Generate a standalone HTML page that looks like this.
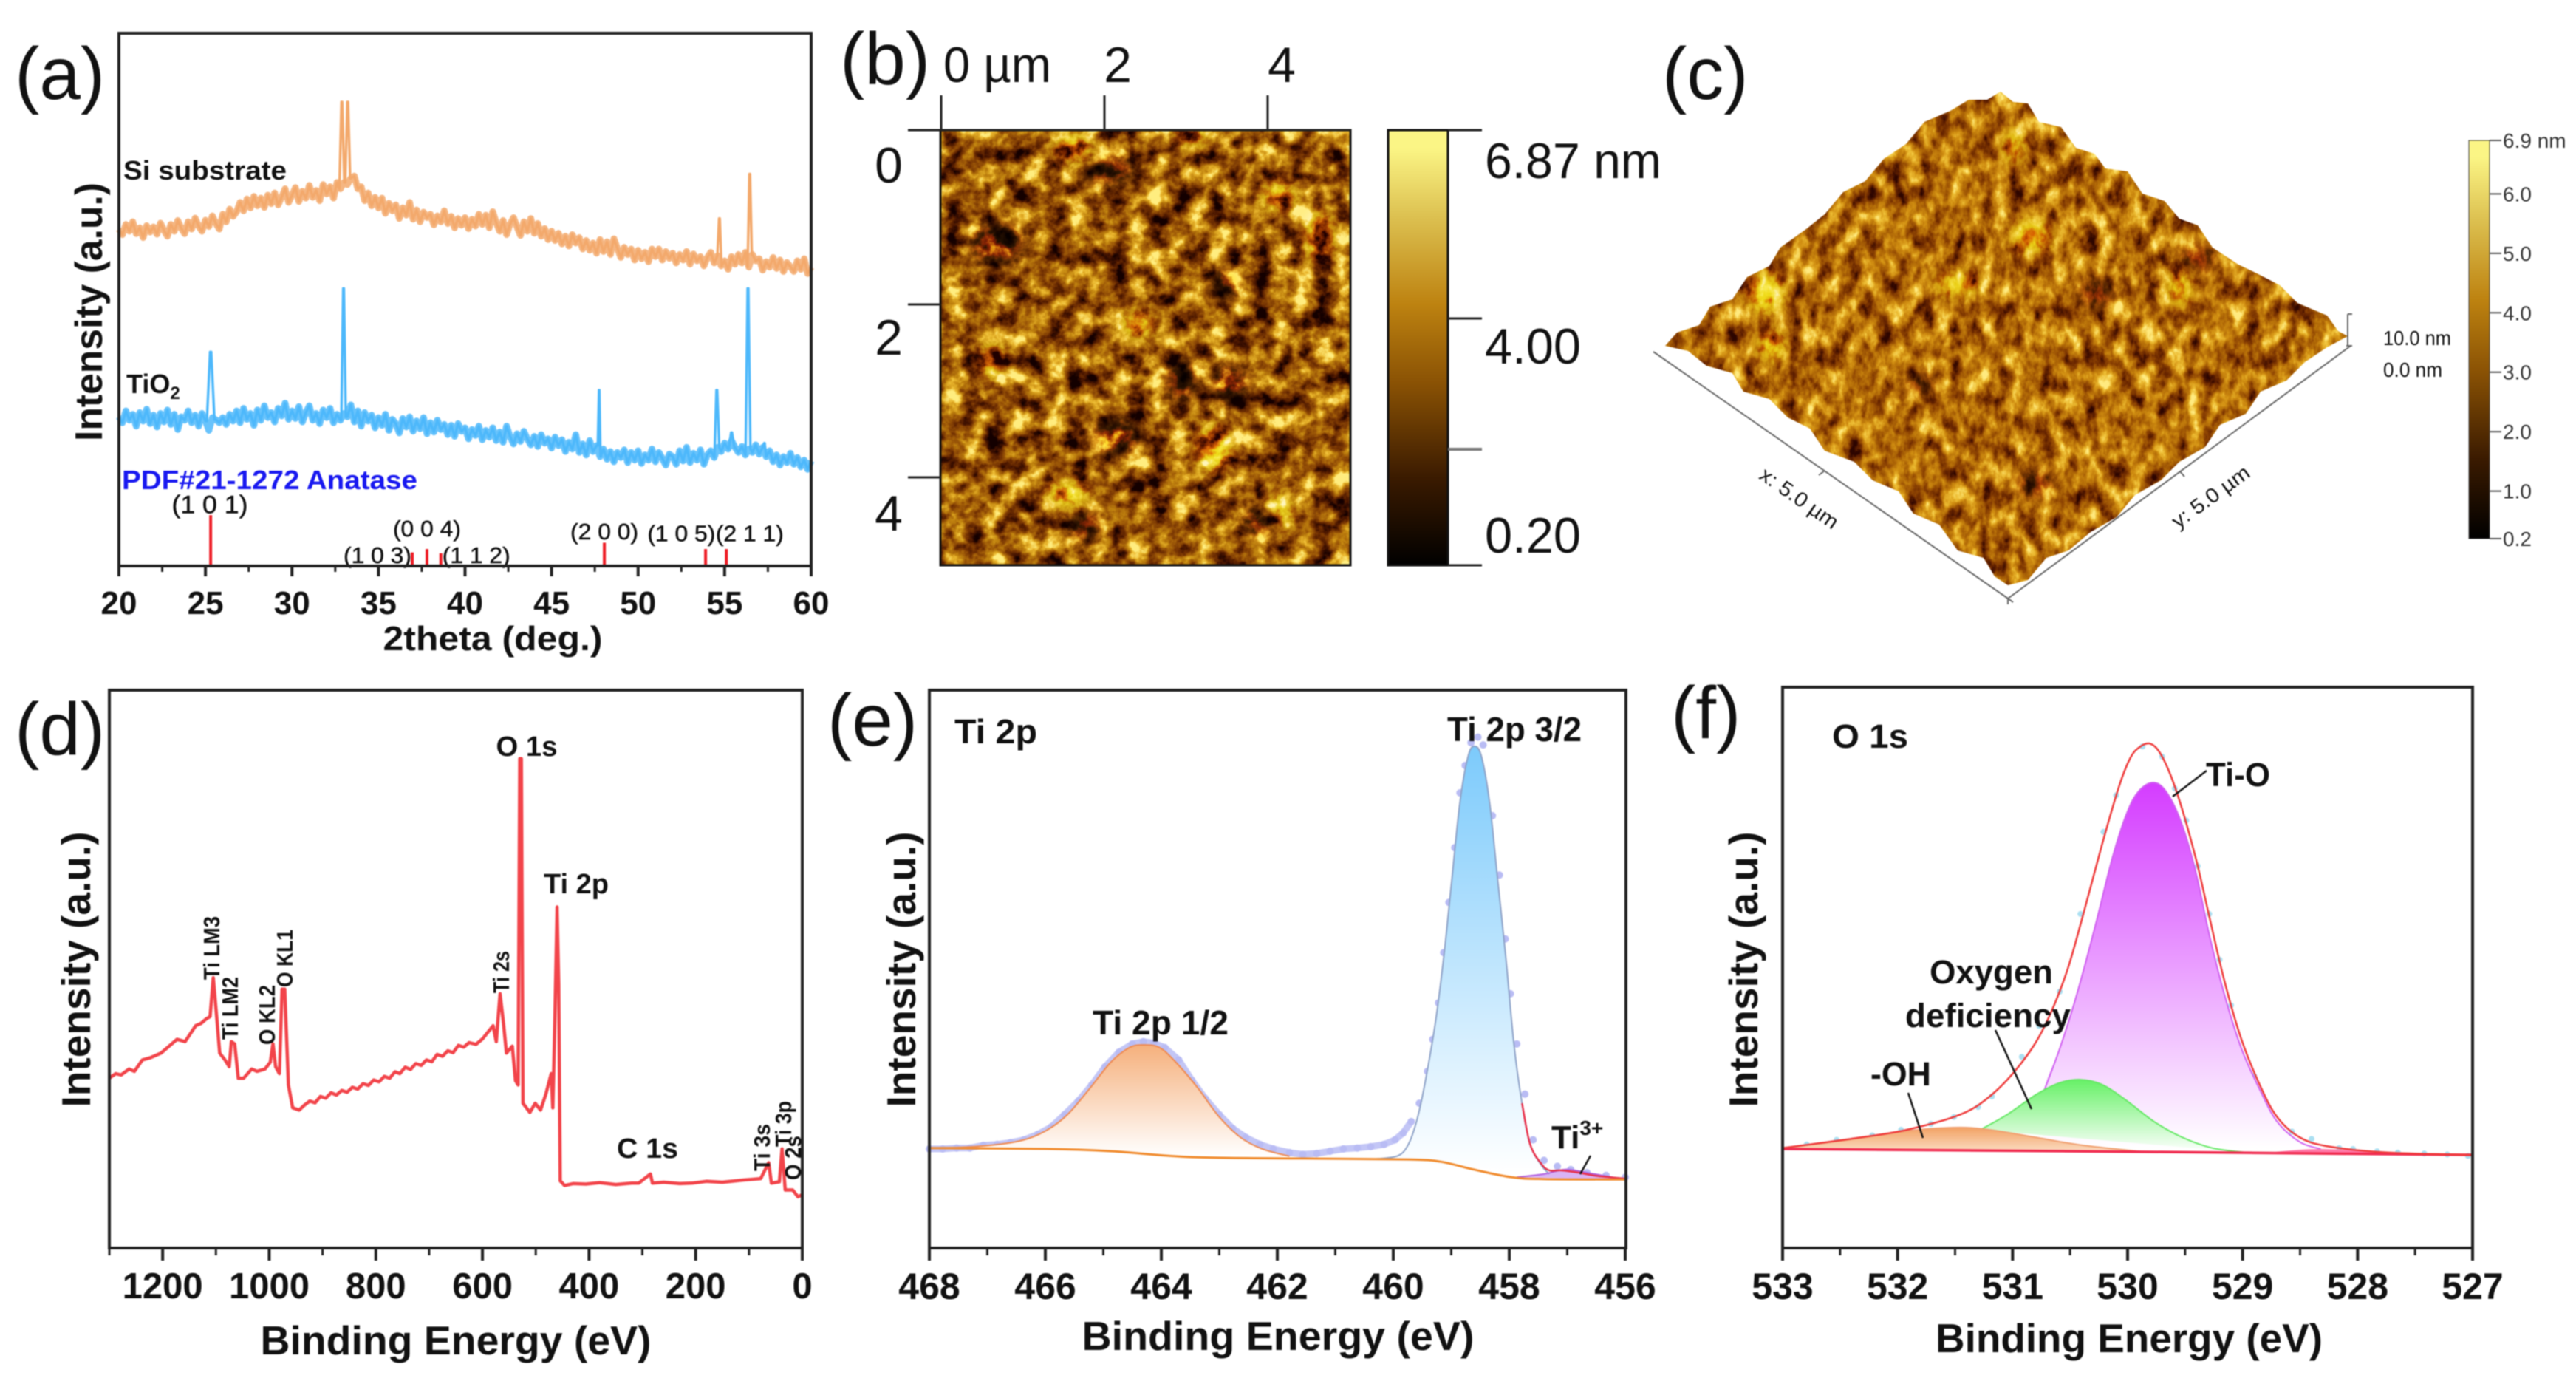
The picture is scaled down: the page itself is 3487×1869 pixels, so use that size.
<!DOCTYPE html>
<html lang="en">
<head>
<meta charset="utf-8">
<title>TiO2 film characterisation</title>
<style>
html,body{margin:0;padding:0;background:#fff;}
svg{display:block;filter:blur(0.8px);}
text{font-family:"Liberation Sans",sans-serif;fill:#111;}
.b{font-weight:bold;}
</style>
</head>
<body>
<svg id="fig" xmlns="http://www.w3.org/2000/svg" width="3487" height="1869" viewBox="0 0 3487 1869">
<defs>
<linearGradient id="afmBar" x1="0" y1="1" x2="0" y2="0">
<stop offset="0" stop-color="#000"/><stop offset=".2" stop-color="#3a1a00"/><stop offset=".42" stop-color="#8a5204"/><stop offset=".6" stop-color="#bd8210"/><stop offset=".8" stop-color="#dcc050"/><stop offset=".96" stop-color="#fbf585"/><stop offset="1" stop-color="#fbf585"/>
</linearGradient>
<linearGradient id="gBlue" x1="0" y1="0" x2="0" y2="1"><stop offset="0" stop-color="#7ccafb"/><stop offset="1" stop-color="#fff"/></linearGradient>
<linearGradient id="gOrange" x1="0" y1="0" x2="0" y2="1"><stop offset="0" stop-color="#f5b07c"/><stop offset="1" stop-color="#fff"/></linearGradient>
<linearGradient id="gMag" x1="0" y1="0" x2="0" y2="1"><stop offset="0" stop-color="#d43cff"/><stop offset="1" stop-color="#fff"/></linearGradient>
<linearGradient id="gGreen" x1="0" y1="0" x2="0" y2="1"><stop offset="0" stop-color="#66f066"/><stop offset="1" stop-color="#fff"/></linearGradient>
<linearGradient id="gOrange2" x1="0" y1="0" x2="0" y2="1"><stop offset="0" stop-color="#f2a264"/><stop offset="1" stop-color="#fbdcc2"/></linearGradient>
<filter id="afm2d" x="0" y="0" width="100%" height="100%" color-interpolation-filters="sRGB">
<feTurbulence type="fractalNoise" baseFrequency="0.036" numOctaves="5" seed="11"/>
<feColorMatrix values="1.8 0 0 0 -.4  1.8 0 0 0 -.4  1.8 0 0 0 -.4  0 0 0 0 1"/>
<feComponentTransfer>
<feFuncR type="table" tableValues=".08 .28 .46 .62 .76 .92 1"/>
<feFuncG type="table" tableValues="0 .08 .20 .35 .52 .72 .93"/>
<feFuncB type="table" tableValues="0 0 .01 .03 .06 .18 .5"/>
</feComponentTransfer>
</filter>
<filter id="afm3d" x="0" y="0" width="100%" height="100%" color-interpolation-filters="sRGB">
<feTurbulence type="fractalNoise" baseFrequency="0.05 0.032" numOctaves="5" seed="5"/>
<feColorMatrix values="1.55 0 0 0 -.27  1.55 0 0 0 -.27  1.55 0 0 0 -.27  0 0 0 0 1"/>
<feComponentTransfer>
<feFuncR type="table" tableValues=".18 .40 .56 .70 .82 .93 1"/>
<feFuncG type="table" tableValues=".02 .14 .27 .42 .56 .74 .92"/>
<feFuncB type="table" tableValues="0 0 .01 .03 .07 .2 .5"/>
</feComponentTransfer>
</filter>
<filter id="soft" x="-50%" y="-50%" width="200%" height="200%"><feGaussianBlur stdDeviation="9"/></filter>
<clipPath id="diamond"><polygon points="2708,124 2725,138 2745,140 2760,165 2790,172 2810,200 2835,208 2850,228 2880,232 2900,262 2930,272 2950,296 2975,305 2995,335 3030,358 3055,370 3086,386 3110,410 3150,427 3165,448 3178,455 3150,470 3120,490 3095,515 3060,530 3040,560 3005,575 2985,605 2950,625 2925,650 2890,670 2865,700 2830,720 2800,745 2770,755 2745,785 2718,792 2700,780 2685,755 2650,745 2625,710 2590,695 2570,665 2535,650 2510,625 2470,610 2450,580 2420,565 2395,540 2360,530 2345,505 2310,495 2285,475 2254,468 2270,450 2300,440 2315,415 2345,405 2365,375 2395,360 2410,335 2445,310 2470,290 2495,260 2525,245 2550,215 2580,195 2605,165 2640,150 2665,135 2690,135"/></clipPath>
<clipPath id="afmRect"><rect x="1273" y="176" width="555" height="589"/></clipPath>
</defs>

<!-- panel a -->
<g id="panelA">
<text x="20" y="134" font-size="100">(a)</text>
<g id="aMarks"></g>
<rect x="161" y="45" width="937" height="721" fill="none" stroke="#222" stroke-width="4"/>
<g id="aTicks"></g>
<text class="b" x="667" y="880" font-size="46" text-anchor="middle" textLength="297" lengthAdjust="spacingAndGlyphs">2theta (deg.)</text>
<text class="b" transform="translate(138,422) rotate(-90)" font-size="52" text-anchor="middle" textLength="350" lengthAdjust="spacingAndGlyphs">Intensity (a.u.)</text>
<text class="b" x="167" y="243" font-size="36" textLength="221" lengthAdjust="spacingAndGlyphs">Si substrate</text>
<text class="b" x="171" y="532" font-size="36">TiO<tspan font-size="24" dy="8">2</tspan></text>
<text class="b" x="165" y="662" font-size="36" style="fill:#1818f0" textLength="400" lengthAdjust="spacingAndGlyphs">PDF#21-1272 Anatase</text>
</g>

<!-- panel b -->
<g id="panelB">
<text x="1137" y="114" font-size="100">(b)</text>
<rect x="1273" y="176" width="555" height="589" fill="#8a5a10" filter="url(#afm2d)"/>
<g clip-path="url(#afmRect)" style="mix-blend-mode:overlay">
<g filter="url(#soft)">
<g fill="#fff" opacity=".75">
<ellipse cx="1452" cy="200" rx="24" ry="18"/><ellipse cx="1614" cy="184" rx="22" ry="10"/><ellipse cx="1786" cy="320" rx="18" ry="34"/><ellipse cx="1731" cy="266" rx="22" ry="18"/><ellipse cx="1643" cy="607" rx="24" ry="30"/><ellipse cx="1540" cy="439" rx="22" ry="16"/><ellipse cx="1445" cy="669" rx="28" ry="16"/><ellipse cx="1731" cy="694" rx="16" ry="24"/><ellipse cx="1343" cy="488" rx="16" ry="22"/>
</g>
<g fill="#000" opacity=".75">
<ellipse cx="1350" cy="330" rx="34" ry="26"/><ellipse cx="1658" cy="385" rx="16" ry="18"/><ellipse cx="1665" cy="520" rx="22" ry="24"/><ellipse cx="1599" cy="515" rx="18" ry="26"/><ellipse cx="1511" cy="591" rx="30" ry="22"/><ellipse cx="1467" cy="710" rx="20" ry="20"/><ellipse cx="1709" cy="705" rx="24" ry="18"/><ellipse cx="1500" cy="230" rx="34" ry="16"/>
</g>
</g>
</g>
<rect x="1273" y="176" width="555" height="589" fill="none" stroke="#111" stroke-width="3"/>
<path d="M1229 176H1828M1274 129V176M1495 129V176M1716 129V176M1229 412H1273M1229 646H1273" stroke="#222" stroke-width="3" fill="none"/>
<g font-size="68">
<text x="1277" y="111" textLength="146" lengthAdjust="spacingAndGlyphs">0 µm</text>
<text x="1513" y="111" text-anchor="middle">2</text>
<text x="1735" y="111" text-anchor="middle">4</text>
<text x="1203" y="247" text-anchor="middle">0</text>
<text x="1203" y="480" text-anchor="middle">2</text>
<text x="1203" y="718" text-anchor="middle">4</text>
<text x="2010" y="241" textLength="239" lengthAdjust="spacingAndGlyphs">6.87 nm</text>
<text x="2010" y="492" textLength="130" lengthAdjust="spacingAndGlyphs">4.00</text>
<text x="2010" y="748" textLength="130" lengthAdjust="spacingAndGlyphs">0.20</text>
</g>
<rect x="1879" y="176" width="81" height="589" fill="url(#afmBar)" stroke="#111" stroke-width="3"/>
<path d="M1960 176H2006M1960 431H2006M1960 765H2006" stroke="#222" stroke-width="3" fill="none"/>
<path d="M1960 608H2006" stroke="#777" stroke-width="4" fill="none"/>
</g>

<!-- panel c -->
<g id="panelC">
<text x="2250" y="134" font-size="100">(c)</text>
<g clip-path="url(#diamond)">
<rect x="2250" y="120" width="935" height="680" filter="url(#afm3d)"/>
<g style="mix-blend-mode:overlay">
<g filter="url(#soft)">
<g fill="#fff" opacity=".7">
<ellipse cx="2390" cy="397" rx="24" ry="28"/><ellipse cx="2398" cy="468" rx="18" ry="20"/><ellipse cx="2750" cy="320" rx="26" ry="22"/><ellipse cx="2726" cy="198" rx="12" ry="24"/><ellipse cx="2950" cy="391" rx="14" ry="24"/><ellipse cx="2650" cy="385" rx="30" ry="14"/>
</g>
<g fill="#000" opacity=".7">
<ellipse cx="2838" cy="397" rx="20" ry="16"/><ellipse cx="2974" cy="351" rx="20" ry="16"/><ellipse cx="2600" cy="520" rx="16" ry="10"/><ellipse cx="2755" cy="655" rx="22" ry="14"/>
</g>
</g>
</g>
</g>
<path d="M2238 476L2718 810L3182 468M2718 810V818M2711 805L2725 815M2470 637L2462 643M2951 638L2957 645M3178 425H3184M3178 425V468M3176 468H3184" stroke="#666" stroke-width="2" fill="none"/>
<g font-size="28" style="fill:#333">
<text transform="translate(2430,682) rotate(35)" text-anchor="middle" textLength="123" lengthAdjust="spacingAndGlyphs">x: 5.0 µm</text>
<text transform="translate(2998,680) rotate(-36)" text-anchor="middle" textLength="123" lengthAdjust="spacingAndGlyphs">y: 5.0 µm</text>
<text x="3226" y="467" textLength="92" lengthAdjust="spacingAndGlyphs">10.0 nm</text>
<text x="3226" y="510" textLength="80" lengthAdjust="spacingAndGlyphs">0.0 nm</text>
</g>
<rect x="3342" y="190" width="28" height="539" fill="url(#afmBar)" stroke="#444" stroke-width="1"/>
<g id="cBar"></g>
</g>

<!-- panel d -->
<g id="panelD">
<text x="20" y="1021" font-size="100">(d)</text>
<g id="dMarks"></g>
<rect x="148" y="934" width="938" height="755" fill="none" stroke="#222" stroke-width="4"/>
<g id="dTicks"></g>
<text class="b" x="617" y="1833" font-size="55" text-anchor="middle" textLength="529" lengthAdjust="spacingAndGlyphs">Binding Energy (eV)</text>
<text class="b" transform="translate(122,1312) rotate(-90)" font-size="55" text-anchor="middle" textLength="373" lengthAdjust="spacingAndGlyphs">Intensity (a.u.)</text>
<g class="b" font-size="38">
<text x="713" y="1023" text-anchor="middle" textLength="83" lengthAdjust="spacingAndGlyphs">O 1s</text>
<text x="736" y="1209" textLength="88" lengthAdjust="spacingAndGlyphs">Ti 2p</text>
<text x="835" y="1567" textLength="83" lengthAdjust="spacingAndGlyphs">C 1s</text>
</g>
<g font-size="31" style="font-weight:600">
<text transform="translate(297,1326) rotate(-90)" textLength="86" lengthAdjust="spacingAndGlyphs">Ti LM3</text>
<text transform="translate(322,1407) rotate(-90)" textLength="85" lengthAdjust="spacingAndGlyphs">Ti LM2</text>
<text transform="translate(372,1414) rotate(-90)" textLength="81" lengthAdjust="spacingAndGlyphs">O KL2</text>
<text transform="translate(396,1336) rotate(-90)" textLength="78" lengthAdjust="spacingAndGlyphs">O KL1</text>
<text transform="translate(689,1344) rotate(-90)" textLength="57" lengthAdjust="spacingAndGlyphs">Ti 2s</text>
<text transform="translate(1042,1585) rotate(-90)" textLength="64" lengthAdjust="spacingAndGlyphs">Ti 3s</text>
<text transform="translate(1071,1552) rotate(-90)" textLength="62" lengthAdjust="spacingAndGlyphs">Ti 3p</text>
<text transform="translate(1084,1597) rotate(-90)" textLength="60" lengthAdjust="spacingAndGlyphs">O 2s</text>
</g>
</g>

<!-- panel e -->
<g id="panelE">
<text x="1120" y="1009" font-size="100">(e)</text>
<g id="eMarks"></g>
<rect x="1258" y="934" width="943" height="755" fill="none" stroke="#222" stroke-width="4"/>
<g id="eTicks"></g>
<text class="b" x="1730" y="1827" font-size="55" text-anchor="middle" textLength="531" lengthAdjust="spacingAndGlyphs">Binding Energy (eV)</text>
<text class="b" transform="translate(1239,1312) rotate(-90)" font-size="55" text-anchor="middle" textLength="373" lengthAdjust="spacingAndGlyphs">Intensity (a.u.)</text>
<g class="b" font-size="46">
<text x="1292" y="1006" textLength="112" lengthAdjust="spacingAndGlyphs">Ti 2p</text>
<text x="1959" y="1003" textLength="182" lengthAdjust="spacingAndGlyphs">Ti 2p 3/2</text>
<text x="1479" y="1400" textLength="184" lengthAdjust="spacingAndGlyphs">Ti 2p 1/2</text>
<text x="2100" y="1554" font-size="44">Ti<tspan font-size="28" dy="-18">3+</tspan></text>
</g>
<path d="M2153 1564L2139 1589" stroke="#111" stroke-width="2.5" fill="none"/>
</g>

<!-- panel f -->
<g id="panelF">
<text x="2262" y="999" font-size="100">(f)</text>
<g id="fMarks"></g>
<rect x="2413" y="930" width="934" height="759" fill="none" stroke="#222" stroke-width="4"/>
<g id="fTicks"></g>
<text class="b" x="2882" y="1830" font-size="55" text-anchor="middle" textLength="524" lengthAdjust="spacingAndGlyphs">Binding Energy (eV)</text>
<text class="b" transform="translate(2379,1312) rotate(-90)" font-size="55" text-anchor="middle" textLength="373" lengthAdjust="spacingAndGlyphs">Intensity (a.u.)</text>
<g class="b" font-size="45">
<text x="2480" y="1012" textLength="103" lengthAdjust="spacingAndGlyphs">O 1s</text>
<text x="2986" y="1064" textLength="87" lengthAdjust="spacingAndGlyphs">Ti-O</text>
<text x="2612" y="1331" textLength="167" lengthAdjust="spacingAndGlyphs">Oxygen</text>
<text x="2579" y="1390" textLength="224" lengthAdjust="spacingAndGlyphs">deficiency</text>
<text x="2532" y="1469" textLength="82" lengthAdjust="spacingAndGlyphs">-OH</text>
</g>
<path d="M2987 1043L2941 1078M2701 1394L2750 1501M2583 1479L2603 1540" stroke="#111" stroke-width="2.5" fill="none"/>
</g>
</svg>

<script>
// ---------- panel (a) XRD ----------
const xrdTicksMajor = [20,25,30,35,40,45,50,55,60];
const xrdTicksMinor = [22.5,27.5,32.5,37.5,42.5,47.5,52.5,57.5];
const xrdStart = 20;
const xrdStep = 0.2;
const siBase = [795,782,806,790,812,784,798,775,803,788,800,783,809,792,778,806,790,815,797,784,812,795,821,802,790,816,801,826,808,795,830,812,842,825,836,858,838,866,845,872,850,868,846,875,855,880,852,870,890,858,875,893,860,884,868,898,870,886,862,900,878,895,868,905,890,905,900,915,920,890,895,862,880,850,870,845,868,832,856,838,852,820,845,828,858,818,840,812,835,822,830,805,826,812,838,808,825,798,820,804,822,796,818,802,830,806,828,798,836,810,790,815,782,806,822,800,780,812,790,820,785,808,778,796,770,790,768,785,760,778,755,782,762,775,748,768,745,762,738,770,742,765,735,772,750,728,752,735,748,722,745,725,740,718,748,730,748,722,742,726,738,715,735,722,742,712,736,720,730,708,728,740,715,732,708,720,700,730,712,735,715,740,705,735,720,725,698,718,705,728,702,722,695,716,706,695,720,700,725,690,705];
const siPeakPos = [32.88,33.22,54.7,56.45];
const siPeakTop = [1095,1095,820,925];
const siPeakHalf = [0.14,0.14,0.12,0.12];
const tiBase = [352,338,366,344,358,330,362,342,370,336,356,328,360,340,368,334,358,322,352,344,366,338,356,330,360,342,320,350,345,338,350,334,358,342,366,338,372,346,360,332,368,344,378,350,362,340,372,354,384,346,366,348,376,340,362,378,344,360,336,368,350,372,338,358,344,360,352,380,340,366,330,362,342,356,326,350,332,358,320,346,336,314,348,328,352,318,342,324,350,312,338,316,344,322,334,310,332,306,336,318,326,300,322,308,330,298,320,304,326,296,316,292,330,306,288,312,294,318,300,286,306,282,310,290,300,278,304,284,298,270,292,276,310,268,288,262,296,270,284,258,276,252,270,246,268,256,274,244,268,250,272,242,262,250,276,246,268,254,238,264,258,240,272,248,280,244,266,250,274,240,262,272,256,280,270,290,276,296,280,268,282,262,276,268,286,264,280,258,272,246,262,238,258,244,266,240,256,234,250,228,248];
const tiPeakPos = [25.3,32.98,47.75,54.55,55.4,56.35,57.3];
const tiPeakTop = [505,655,415,415,315,655,290];
const tiPeakHalf = [0.22,0.13,0.08,0.14,0.16,0.14,0.1];
const stickPos = [25.3,36.95,37.8,38.6,48.05,53.9,55.1];
const stickHeight = [120,32,40,30,55,40,40];
const hklLabels = ['(1 0 1)','(1 0 3)','(0 0 4)','(1 1 2)','(2 0 0)','(1 0 5)','(2 1 1)'];
const hklAt = [25.25,34.94,37.8,40.65,48.05,52.5,56.45];
const hklAbove = [125,7,70,7,63,58,58];

// ---------- panel (c) colorbar ----------
const afmBarTicks = [6.9,6,5,4,3,2,1,0.2];
const afmBarLabels = ['6.9 nm','6.0','5.0','4.0','3.0','2.0','1.0','0.2'];

// ---------- panel (d) survey ----------
const surveyTicksMajor = [1200,1000,800,600,400,200,0];
const surveyTicksMinor = [1300,1100,900,700,500,300,100];
const surveyEnergy = [1300,1288,1278,1263,1253,1238,1223,1203,1188,1173,1158,1138,1128,1118,1111,1105,1098,1093,1083,1075,1071,1065,1058,1048,1033,1023,1008,998,993,988,981,976,971,964,956,944,935,924,914,904,894,884,874,864,854,844,834,824,814,804,794,784,774,764,755,745,735,725,715,705,695,685,675,665,655,645,635,625,612,600,580,574,567,560,555,544,538,533,530,527,524,511,501,491,481,471,468,464,460,457,454,446,430,406,380,350,320,307,285,281,260,230,207,180,150,108,78,63,58,43,38,32,18,8,0];
const surveyCounts = [372,382,379,392,387,412,417,427,442,457,452,487,492,502,507,592,497,427,412,397,452,447,372,372,392,387,392,407,447,397,382,567,567,357,307,302,312,322,318,332,328,340,335,345,341,352,348,360,356,368,364,376,372,386,382,396,391,404,400,412,408,424,420,432,428,444,440,450,446,458,487,452,557,487,427,442,367,357,1072,1072,317,297,317,302,337,382,307,507,747,577,147,137,141,140,143,139,142,142,162,142,144,141,142,146,144,149,152,187,142,145,217,127,127,112,117];

// ---------- panel (e) Ti 2p ----------
const ti2pTicksMajor = [468,466,464,462,460,458,456];
const ti2pTicksMinor = [467,465,463,461,459,457];
const ti2pDotE = [468,467.77,467.53,467.3,467.07,466.83,466.6,466.37,466.13,465.9,465.67,465.43,465.2,464.97,464.73,464.5,464.31,464.13,463.94,463.7,463.47,463.24,463,462.77,462.54,462.3,462.07,461.79,461.56,461.32,461.09,460.86,460.62,460.39,460.16,459.97,459.83,459.69,459.55,459.41,459.32,459.22,459.13,459.04,458.94,458.85,458.76,458.66,458.54,458.45,458.29,458.17,458.07,457.98,457.87,457.73,457.59,457.4,457.17,456.94,456.66,456.33,456];
const ti2pDotI = [217,217,219,219,225,227,231,237,249,265,292,322,357,397,429,447,452,449,439,412,367,327,292,262,242,227,217,209,205,207,212,217,219,222,227,237,252,277,317,387,457,537,647,757,877,997,1057,1107,1119,1102,947,817,677,557,447,337,237,192,179,172,165,159,155];
const ti12E = [468,467.21,466.46,465.99,465.62,465.25,464.87,464.55,464.31,464.03,463.75,463.38,463,462.63,462.26,461.79];
const ti12I = [219,222,234,257,292,347,407,439,445,439,407,352,287,242,217,201];
const ti32E = [460.3,459.92,459.74,459.6,459.46,459.27,459.13,458.99,458.85,458.71,458.6,458.48,458.34,458.2,458.06,457.92,457.78,457.64,457.45,457.31];
const ti32I = [195,202,227,277,357,497,637,807,977,1077,1099,1077,977,807,637,447,317,227,182,162];
const ti3E = [457.87,457.4,457.03,456.66,456];
const ti3I = [155,162,172,165,150];
const tiEnvE = [457.78,457.64,457.45,457.31,457.1,456.8,456.5,456];
const tiEnvI = [317,227,185,170,170,165,158,152];
const tiBgE = [468,466,464.87,463.47,461.6,459.74,459.18,458.62,457.96,457.4,456];
const tiBgI = [219,217,212,199,196,194,189,172,155,151,150];

// ---------- panel (f) O 1s ----------
const o1sTicksMajor = [533,532,531,530,529,528,527];
const o1sTicksMinor = [532.5,531.5,530.5,529.5,528.5,527.5];
const o1sDotE = [532.79,532.53,532.22,531.97,531.71,531.51,531.3,531.18,530.92,530.77,530.59,530.41,530.21,530.1,529.87,529.7,529.59,529.49,529.39,529.29,529.2,529.1,528.9,528.57,528.4,528.16,528.04,527.83,527.65,527.42,527.22,527.04];
const o1sDotI = [227,237,247,259,272,287,309,332,419,487,562,732,912,992,1099,1077,1007,937,837,732,632,532,377,255,239,219,217,212,209,207,205,202];
const o1sEnvE = [533,532.33,531.92,531.46,531.2,530.95,530.74,530.54,530.39,530.23,530.08,529.98,529.9,529.8,529.7,529.57,529.41,529.29,529.16,529.01,528.85,528.7,528.5,528.24,527.73,527];
const o1sEnvI = [219,242,259,292,332,397,477,597,727,877,1007,1072,1097,1105,1077,997,857,727,587,457,357,287,242,222,209,204];
const tiOE = [530.73,530.73,530.59,530.44,530.28,530.13,530,529.9,529.78,529.67,529.54,529.41,529.29,529.16,529.01,528.85,528.7,528.5,528.32];
const tiOI = [216,342,437,557,707,857,957,1002,1020,1002,937,827,687,557,437,347,277,232,217];
const vacE = [531.28,531.05,530.79,530.59,530.41,530.23,530.03,529.77,529.52,529.26,528.96];
const vacI = [259,292,337,362,369,359,327,277,242,219,209];
const ohE = [533,532.43,531.97,531.51,531.2,530.79,530.39,529.87];
const ohI = [219,237,255,264,259,242,225,211];
const pinkE = [528.85,528.34,527.73,527.32];
const pinkI = [207,217,209,204];
const o1sBgE = [533,530,527];
const o1sBgI = [217,211,204];

const NS = 'http://www.w3.org/2000/svg';
function linear(d0, d1, r0, r1) { return v => r0 + (v - d0) * (r1 - r0) / (d1 - d0); }

function addEl(parent, tag, name, attrs) {
  const el = document.createElementNS(NS, tag);
  
  
  for (const k in attrs) el.setAttribute(k, attrs[k]);
  parent.appendChild(el);
  return el;
}
function addText(parent, name, attrs, str) {
  const el = addEl(parent, 'text', name, attrs);
  el.textContent = str;
  return el;
}
function rawPath(xs, ys, sx, sy) {
  return xs.map((x, i) => (i ? 'L' : 'M') + sx(x).toFixed(1) + ' ' + sy(ys[i]).toFixed(1)).join('');
}
function smoothPath(xs, ys, sx, sy) {
  const p = xs.map((x, i) => [sx(x), sy(ys[i])]);
  let d = 'M' + p[0][0].toFixed(1) + ' ' + p[0][1].toFixed(1);
  for (let i = 0; i < p.length - 1; i++) {
    const a = p[Math.max(i - 1, 0)], b = p[i], c = p[i + 1], e = p[Math.min(i + 2, p.length - 1)];
    d += 'C' + (b[0] + (c[0] - a[0]) / 6).toFixed(1) + ' ' + (b[1] + (c[1] - a[1]) / 6).toFixed(1) + ' ' +
      (c[0] - (e[0] - b[0]) / 6).toFixed(1) + ' ' + (c[1] - (e[1] - b[1]) / 6).toFixed(1) + ' ' +
      c[0].toFixed(1) + ' ' + c[1].toFixed(1);
  }
  return d;
}
function xAxis(group, prefix, major, minor, sx, yBase, lenMajor, lenMinor, labelY, fontSize) {
  major.forEach(t => {
    const x = sx(t);
    addEl(group, 'line', prefix + '-tick-' + t, {x1: x, x2: x, y1: yBase, y2: yBase + lenMajor, stroke: '#222', 'stroke-width': 4});
    const lab = addText(group, prefix + '-tick-label-' + t, {x: x, y: labelY, 'font-size': fontSize, 'text-anchor': 'middle'}, String(t));
    lab.setAttribute('class', 'b');
  });
  minor.forEach(t => {
    const x = sx(t);
    addEl(group, 'line', prefix + '-minor-tick-' + t, {x1: x, x2: x, y1: yBase, y2: yBase + lenMinor, stroke: '#222', 'stroke-width': 3});
  });
}

// ----- (a)
(function () {
  const sx = linear(20, 60, 161, 1098), sy = linear(0, 1257, 766, 45);
  const g = document.getElementById('aMarks');
  function spectrum(base, pos, top, half) {
    const pts = [];
    base.forEach((v, i) => {
      const x = xrdStart + i * xrdStep;
      if (!pos.some((p, k) => Math.abs(x - p) < half[k])) pts.push([x, v]);
    });
    pos.forEach((p, k) => {
      const l = base[Math.round((p - half[k] - xrdStart) / xrdStep)];
      const r = base[Math.round((p + half[k] - xrdStart) / xrdStep)];
      pts.push([p - half[k], l], [p - half[k] * 0.15, top[k]], [p + half[k] * 0.15, top[k]], [p + half[k], r]);
    });
    pts.sort((a, b) => a[0] - b[0]);
    return rawPath(pts.map(q => q[0]), pts.map(q => q[1]), sx, sy);
  }
  addEl(g, 'path', 'si-substrate-noise-band', {d: spectrum(siBase, [], [], []), fill: 'none', stroke: '#f3a96c', 'stroke-width': 9, 'stroke-linejoin': 'round', opacity: 0.85});
  addEl(g, 'path', 'si-substrate-series', {d: spectrum(siBase, siPeakPos, siPeakTop, siPeakHalf), fill: 'none', stroke: '#f3a96c', 'stroke-width': 3.4, 'stroke-linejoin': 'round'});
  addEl(g, 'path', 'tio2-noise-band', {d: spectrum(tiBase, [], [], []), fill: 'none', stroke: '#4db8fb', 'stroke-width': 9, 'stroke-linejoin': 'round', opacity: 0.85});
  addEl(g, 'path', 'tio2-series', {d: spectrum(tiBase, tiPeakPos, tiPeakTop, tiPeakHalf), fill: 'none', stroke: '#4db8fb', 'stroke-width': 3.4, 'stroke-linejoin': 'round'});
  stickPos.forEach((p, i) => {
    addEl(g, 'line', 'anatase-stick-' + i, {x1: sx(p), x2: sx(p), y1: sy(0), y2: sy(stickHeight[i]), stroke: '#ee1c25', 'stroke-width': 4});
  });
  hklLabels.forEach((s, i) => {
    const lab = addText(g, 'hkl-label-' + i, {x: sx(hklAt[i]), y: sy(hklAbove[i]), 'font-size': i === 0 ? 34 : 31, 'text-anchor': 'middle', 'textLength': i === 0 ? 103 : 92, 'lengthAdjust': 'spacingAndGlyphs'}, s);
    lab.setAttribute('style', 'font-weight:500;stroke:#111;stroke-width:.5');
  });
  xAxis(document.getElementById('aTicks'), 'xrd-x', xrdTicksMajor, xrdTicksMinor, sx, 766, 14, 8, 831, 44);
})();

// ----- (c) colorbar
(function () {
  const sy = linear(0.2, 6.9, 729, 190);
  const g = document.getElementById('cBar');
  afmBarTicks.forEach((t, i) => {
    const y = sy(t);
    addEl(g, 'line', 'afm-3d-bar-tick-' + t, {x1: 3370, x2: 3386, y1: y, y2: y, stroke: '#555', 'stroke-width': 2});
    const lab = addText(g, 'afm-3d-bar-label-' + t, {x: 3388, y: y + 10, 'font-size': 28}, afmBarLabels[i]);
    lab.setAttribute('style', 'fill:#333');
  });
})();

// ----- (d)
(function () {
  const sx = linear(1300, 0, 148, 1086), sy = linear(0, 1222, 1689, 934);
  addEl(document.getElementById('dMarks'), 'path', 'survey-series', {d: rawPath(surveyEnergy, surveyCounts, sx, sy), fill: 'none', stroke: '#f2444a', 'stroke-width': 4.5, 'stroke-linejoin': 'round'});
  xAxis(document.getElementById('dTicks'), 'survey-x', surveyTicksMajor, surveyTicksMinor, sx, 1689, 17, 10, 1757, 49);
})();

// ----- (e)
(function () {
  const sx = linear(468, 456, 1258, 2200), sy = linear(0, 1222, 1689, 934);
  const g = document.getElementById('eMarks');
  addEl(g, 'path', 'ti2p-data-halo', {d: rawPath(ti2pDotE.slice(0, 38), ti2pDotI.slice(0, 38), sx, sy), fill: 'none', stroke: '#c3c6f6', 'stroke-width': 9, 'stroke-linejoin': 'round'});
  ti2pDotE.forEach((e, i) => {
    addEl(g, 'circle', 'ti2p-data-point-' + i, {cx: sx(e), cy: sy(ti2pDotI[i]), r: 5, fill: '#b9bcf4'});
  });
  addEl(g, 'path', 'ti2p-1-2-fill', {d: smoothPath(ti12E, ti12I, sx, sy) + 'Z', fill: 'url(#gOrange)'});
  addEl(g, 'path', 'ti2p-3-2-fill', {d: smoothPath(ti32E, ti32I, sx, sy) + 'Z', fill: 'url(#gBlue)'});
  addEl(g, 'path', 'ti3-fill', {d: smoothPath(ti3E, ti3I, sx, sy) + 'Z', fill: '#d9b3f5'});
  addEl(g, 'path', 'ti2p-1-2-line', {d: smoothPath(ti12E, ti12I, sx, sy), fill: 'none', stroke: '#f08a50', 'stroke-width': 2});
  addEl(g, 'path', 'ti2p-3-2-line', {d: smoothPath(ti32E, ti32I, sx, sy), fill: 'none', stroke: '#8fa3c8', 'stroke-width': 2});
  addEl(g, 'path', 'ti3-line', {d: smoothPath(ti3E, ti3I, sx, sy), fill: 'none', stroke: '#b060e0', 'stroke-width': 2});
  addEl(g, 'path', 'ti2p-envelope', {d: smoothPath(tiEnvE, tiEnvI, sx, sy), fill: 'none', stroke: '#e8304a', 'stroke-width': 2.5});
  addEl(g, 'path', 'ti2p-background', {d: smoothPath(tiBgE, tiBgI, sx, sy), fill: 'none', stroke: '#f08a2c', 'stroke-width': 3});
  xAxis(document.getElementById('eTicks'), 'ti2p-x', ti2pTicksMajor, ti2pTicksMinor, sx, 1689, 17, 10, 1758, 50);
})();

// ----- (f)
(function () {
  const sx = linear(533, 527, 2413, 3347), sy = linear(0, 1229, 1689, 930);
  const g = document.getElementById('fMarks');
  o1sDotE.forEach((e, i) => {
    addEl(g, 'circle', 'o1s-data-point-' + i, {cx: sx(e), cy: sy(o1sDotI[i]), r: 4, fill: '#abe0f2'});
  });
  addEl(g, 'path', 'ti-o-fill', {d: smoothPath(tiOE, tiOI, sx, sy) + 'Z', fill: 'url(#gMag)'});
  addEl(g, 'path', 'ti-o-line', {d: smoothPath(tiOE.slice(1), tiOI.slice(1), sx, sy), fill: 'none', stroke: '#d060f0', 'stroke-width': 2});
  addEl(g, 'path', 'vacancy-fill', {d: smoothPath(vacE, vacI, sx, sy) + 'Z', fill: 'url(#gGreen)'});
  addEl(g, 'path', 'vacancy-line', {d: smoothPath(vacE, vacI, sx, sy), fill: 'none', stroke: '#66e866', 'stroke-width': 2});
  addEl(g, 'path', 'hydroxyl-fill', {d: smoothPath(ohE, ohI, sx, sy) + 'Z', fill: 'url(#gOrange2)'});
  addEl(g, 'path', 'hydroxyl-line', {d: smoothPath(ohE, ohI, sx, sy), fill: 'none', stroke: '#f0a070', 'stroke-width': 2});
  addEl(g, 'path', 'pink-component-fill', {d: smoothPath(pinkE, pinkI, sx, sy) + 'Z', fill: '#ff7aa8'});
  addEl(g, 'path', 'o1s-background', {d: rawPath(o1sBgE, o1sBgI, sx, sy), fill: 'none', stroke: '#f02c50', 'stroke-width': 3.5});
  addEl(g, 'path', 'o1s-envelope', {d: smoothPath(o1sEnvE, o1sEnvI, sx, sy), fill: 'none', stroke: '#ee3a3a', 'stroke-width': 2.5});
  xAxis(document.getElementById('fTicks'), 'o1s-x', o1sTicksMajor, o1sTicksMinor, sx, 1689, 17, 10, 1758, 50);
})();
</script>
</body>
</html>
